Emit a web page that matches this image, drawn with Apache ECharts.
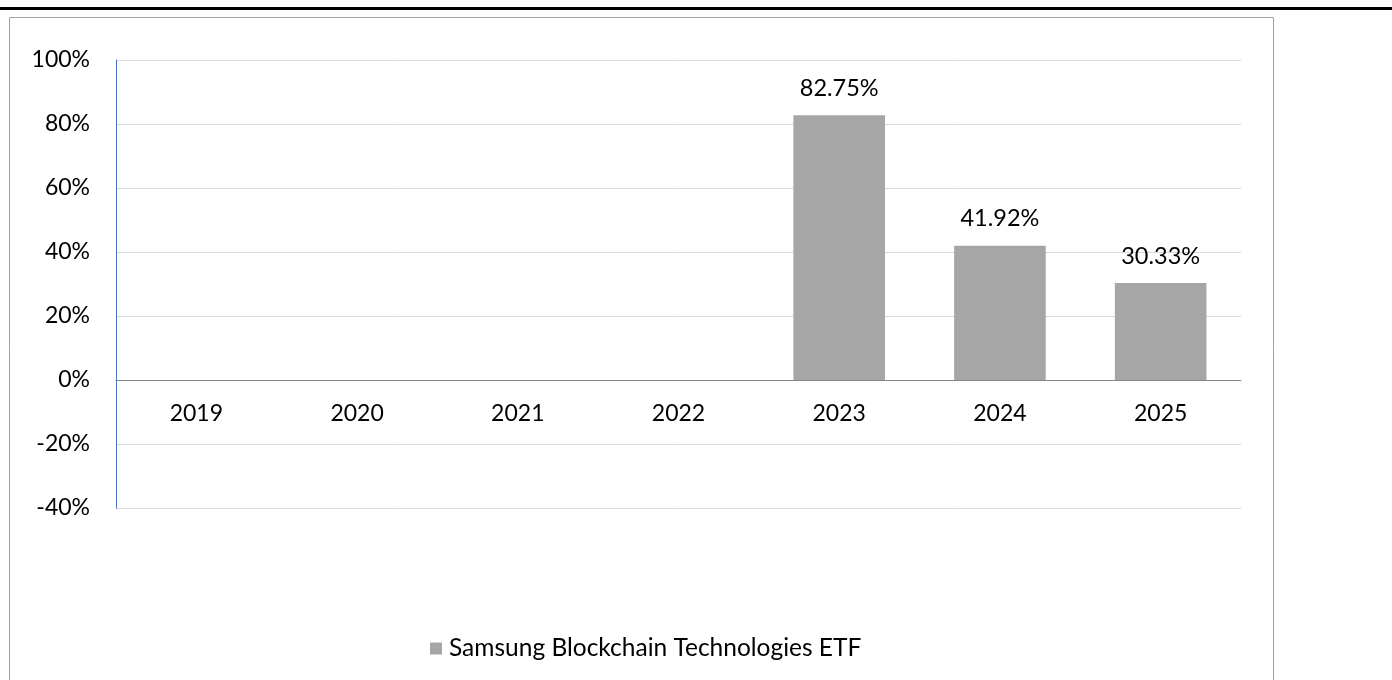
<!DOCTYPE html>
<html>
<head>
<meta charset="utf-8">
<script src="https://cdn.jsdelivr.net/npm/echarts@6/dist/echarts.min.js"></script>
<style>html,body{margin:0;padding:0;background:#fff;}#c{width:1392px;height:680px;}</style>
</head>
<body>
<div id="c"></div>
<script>
const categories = ['2019', '2020', '2021', '2022', '2023', '2024', '2025'];
const seriesName = 'Samsung Blockchain Technologies ETF';
const values = [null, null, null, null, 82.75, 41.92, 30.33];
const yMin = -40, yMax = 100, yStep = 20;

const FONT = 'Lato, "Open Sans", sans-serif';
const chart = echarts.init(document.getElementById('c'), null, {renderer: 'canvas'});
chart.setOption({
  animation: false,
  backgroundColor: '#fff',
  graphic: [
    {type: 'rect', shape: {x: 0, y: 7, width: 1392, height: 3}, style: {fill: '#000'}, silent: true},
    {type: 'rect', shape: {x: 9.5, y: 17.5, width: 1264, height: 700}, style: {fill: 'none', stroke: '#a0a0a0', lineWidth: 1}, silent: true}
  ],
  grid: {left: 116, right: 151, top: 60, bottom: 172, containLabel: false},
  legend: {
    bottom: 14, left: 425,
    icon: 'rect', itemWidth: 12, itemHeight: 12, itemGap: 6,
    textStyle: {fontFamily: FONT, fontSize: 24.5, color: '#000', padding: [0, 0, 0, 2]},
    data: [seriesName]
  },
  xAxis: {
    type: 'category', data: categories,
    position: 'bottom',
    offset: -128,
    axisLine: {show: true, onZero: false, lineStyle: {color: '#868686', width: 1}},
    axisTick: {show: false},
    axisLabel: {color: '#000', fontFamily: FONT, fontSize: 23, margin: 22}
  },
  yAxis: {
    type: 'value', min: yMin, max: yMax, interval: yStep,
    axisLine: {show: true, lineStyle: {color: '#4a72c0', width: 1}},
    axisTick: {show: false},
    splitLine: {show: true, lineStyle: {color: '#d9d9d9', width: 1}},
    axisLabel: {color: '#000', fontFamily: FONT, fontSize: 23, margin: 26, formatter: v => v + '%'}
  },
  series: [{
    name: seriesName, type: 'bar', data: values,
    barWidth: '57%',
    itemStyle: {color: '#a6a6a6'},
    label: {show: true, position: 'top', distance: 15, color: '#000', fontFamily: FONT, fontSize: 23.5,
      formatter: p => p.value == null ? '' : p.value.toFixed(2) + '%'}
  }]
});
</script>
</body>
</html>
